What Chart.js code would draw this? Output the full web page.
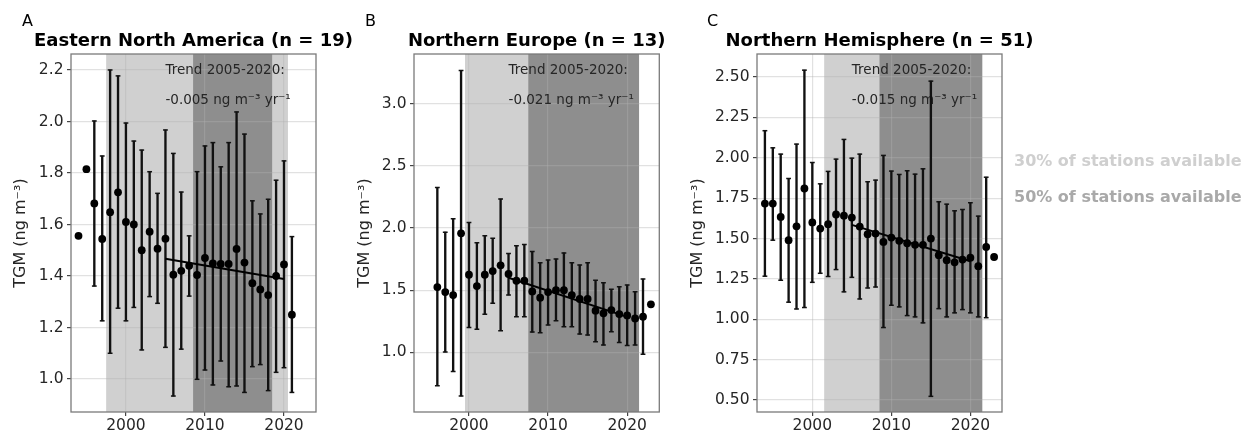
<!DOCTYPE html>
<html><head><meta charset="utf-8">
<script src="https://cdn.jsdelivr.net/npm/chart.js@4.4.0/dist/chart.umd.min.js"></script>
<style>
html,body{margin:0;padding:0;background:#fff;width:1245px;height:433px;overflow:hidden;font-family:"DejaVu Sans",sans-serif;}
canvas{position:absolute;left:0;top:0;}
.lab{position:absolute;font-size:16px;line-height:16px;color:#000;white-space:nowrap;}
.leg{position:absolute;font-size:16px;font-weight:bold;line-height:20px;white-space:nowrap;}
</style></head><body>
<canvas id="cA" width="1245" height="433"></canvas>
<canvas id="cB" width="1245" height="433"></canvas>
<canvas id="cC" width="1245" height="433"></canvas>
<div class="lab" style="left:22px;top:13px">A</div>
<div class="lab" style="left:365px;top:13px">B</div>
<div class="lab" style="left:707px;top:13px">C</div>
<div class="leg" style="left:1014px;top:151px;color:#cfcfcf">30% of stations available</div>
<div class="leg" style="left:1014px;top:187px;color:#a9a9a9">50% of stations available</div>
<script>
// ---------- data ----------
const xTicks = [2000, 2010, 2020];
const trendYears = [2005, 2020];
const yLabel = 'TGM (ng m⁻³)';

// Panel A
const titleA = 'Eastern North America (n = 19)';
const trendTextA = '-0.005 ng m⁻³ yr⁻¹';
const yearsA = [1994,1995,1996,1997,1998,1999,2000,2001,2002,2003,2004,2005,2006,2007,2008,2009,2010,2011,2012,2013,2014,2015,2016,2017,2018,2019,2020,2021];
const meanA = [1.556,1.815,1.682,1.544,1.648,1.725,1.61,1.60,1.50,1.572,1.506,1.545,1.405,1.42,1.44,1.404,1.47,1.449,1.447,1.447,1.505,1.452,1.372,1.348,1.326,1.40,1.445,1.25];
const lowA  = [null,null,1.361,1.226,1.10,1.275,1.226,1.278,1.113,1.32,1.294,1.123,0.934,1.116,1.322,0.999,1.035,0.977,1.07,0.97,0.973,0.948,1.048,1.056,0.955,1.026,1.044,0.948];
const highA = [null,null,2.002,1.866,2.2,2.177,1.994,1.924,1.889,1.805,1.721,1.967,1.876,1.726,1.556,1.805,1.905,1.918,1.824,1.918,2.037,1.951,1.692,1.641,1.698,1.772,1.847,1.553];
const trendA = [1.467, 1.388];
const yTicksA = [1.0,1.2,1.4,1.6,1.8,2.0,2.2];
const shadeLightA = [1997.5, 2020.5];
const shadeDarkA = [2008.5, 2018.5];

// Panel B
const titleB = 'Northern Europe (n = 13)';
const trendTextB = '-0.021 ng m⁻³ yr⁻¹';
const yearsB = [1996,1997,1998,1999,2000,2001,2002,2003,2004,2005,2006,2007,2008,2009,2010,2011,2012,2013,2014,2015,2016,2017,2018,2019,2020,2021,2022,2023];
const meanB = [1.525,1.485,1.461,1.957,1.624,1.533,1.624,1.654,1.70,1.63,1.576,1.576,1.49,1.44,1.485,1.50,1.50,1.461,1.429,1.429,1.335,1.314,1.34,1.308,1.297,1.273,1.287,1.386];
const lowB  = [0.732,1.003,0.845,0.649,1.20,1.185,1.306,1.394,1.174,1.461,1.287,1.287,1.163,1.158,1.22,1.255,1.206,1.206,1.147,1.139,1.086,1.059,1.166,1.08,1.054,1.059,0.984,null];
const highB = [2.327,1.967,2.075,3.268,2.045,1.882,1.938,1.917,2.233,1.796,1.858,1.868,1.812,1.721,1.742,1.75,1.80,1.721,1.702,1.721,1.579,1.56,1.507,1.528,1.541,1.488,1.59,null];
const trendB = [1.60, 1.285];
const yTicksB = [1.0,1.5,2.0,2.5,3.0];
const shadeLightB = [1999.5, 2021.5];
const shadeDarkB = [2007.5, 2021.5];

// Panel C
const titleC = 'Northern Hemisphere (n = 51)';
const trendTextC = '-0.015 ng m⁻³ yr⁻¹';
const yearsC = [1994,1995,1996,1997,1998,1999,2000,2001,2002,2003,2004,2005,2006,2007,2008,2009,2010,2011,2012,2013,2014,2015,2016,2017,2018,2019,2020,2021,2022,2023];
const meanC = [1.717,1.717,1.634,1.49,1.576,1.81,1.60,1.562,1.589,1.649,1.642,1.63,1.574,1.527,1.531,1.479,1.506,1.486,1.471,1.461,1.461,1.50,1.397,1.366,1.353,1.37,1.382,1.329,1.448,1.386];
const lowC  = [1.267,1.49,1.242,1.106,1.064,1.073,1.229,1.285,1.265,1.308,1.17,1.26,1.126,1.194,1.2,0.949,1.087,1.077,1.023,1.015,0.978,0.523,1.066,1.015,1.04,1.06,1.04,1.015,1.01,null];
const highC = [2.168,2.062,2.023,1.872,2.085,2.543,1.971,1.839,1.916,1.992,2.114,1.998,2.023,1.852,1.862,2.015,1.918,1.897,1.92,1.899,1.932,2.475,1.728,1.713,1.672,1.68,1.722,1.639,1.88,null];
const trendC = [1.585, 1.36];
const yTicksC = [0.50,0.75,1.00,1.25,1.50,1.75,2.00,2.25,2.50];
const shadeLightC = [2001.5, 2021.5];
const shadeDarkC = [2008.5, 2021.5];

// ---------- style ----------
const FONT = '"DejaVu Sans", sans-serif';
const TXT = '#262626';
const GRID = 'rgba(176,176,176,0.38)';
const LIGHT = '#d0d0d0';
const DARK = '#8e8e8e';
const INK = '#111';

function makeChart(id, p) {
  const pts = [], bars = [], caps = [];
  p.years.forEach((yr, i) => {
    pts.push({x: yr, y: p.mean[i]});
    if (p.low[i] != null && p.high[i] != null) {
      bars.push({x: yr, y: [p.low[i], p.high[i]]});
      caps.push({x: yr, y: p.low[i]}, {x: yr, y: p.high[i]});
    }
  });
  const trend = trendYears.map((yr, i) => ({x: yr, y: p.trend[i]}));

  const deco = {
    id: 'deco',
    afterLayout(chart) {
      const t = chart.titleBlock;
      if (t) { t.left -= 150; t.right += 150; t.width = t.right - t.left; }
    },
    beforeDraw(chart) {
      const {ctx, chartArea: a, scales: {x}} = chart;
      ctx.save();
      ctx.beginPath(); ctx.rect(a.left, a.top, a.right - a.left, a.bottom - a.top); ctx.clip();
      const l1 = x.getPixelForValue(p.light[0]), l2 = x.getPixelForValue(p.light[1]);
      ctx.fillStyle = LIGHT; ctx.fillRect(l1, a.top, l2 - l1, a.bottom - a.top);
      const d1 = x.getPixelForValue(p.dark[0]), d2 = x.getPixelForValue(p.dark[1]);
      ctx.fillStyle = DARK; ctx.fillRect(d1, a.top, d2 - d1, a.bottom - a.top);
      ctx.restore();
    },
    beforeDatasetsDraw(chart) {
      const {ctx, chartArea: a, scales: {x}} = chart;
      ctx.save();
      ctx.font = '13.5px ' + FONT;
      ctx.fillStyle = TXT; ctx.textAlign = 'left'; ctx.textBaseline = 'middle';
      const tx = x.getPixelForValue(trendYears[0]);
      ctx.fillText('Trend 2005-2020:', tx, a.top + 16.7);
      ctx.fillText(p.trendText, tx, a.top + 46);
      ctx.restore();
    },
    afterDraw(chart) {
      const {ctx, chartArea: a} = chart;
      ctx.save();
      ctx.strokeStyle = '#7a7a7a'; ctx.lineWidth = 1.3;
      ctx.strokeRect(a.left, a.top, a.right - a.left, a.bottom - a.top);
      ctx.restore();
    }
  };

  return new Chart(document.getElementById(id), {
    type: 'scatter',
    data: {
      datasets: [
        {type: 'scatter', data: pts, pointRadius: 3.9, pointHoverRadius: 3.9, backgroundColor: '#000', borderWidth: 0, order: 0},
        {type: 'line', data: trend, showLine: true, borderColor: '#000', borderWidth: 2, pointRadius: 0, fill: false, order: 1},
        {type: 'scatter', data: caps, pointStyle: 'line', pointRadius: 2.4, pointHoverRadius: 2.4, borderColor: INK, borderWidth: 1.5, order: 2},
        {type: 'bar', data: bars, barThickness: 1.7, grouped: false, backgroundColor: INK, borderWidth: 0, order: 3}
      ]
    },
    options: {
      responsive: false, animation: false,
      events: [],
      layout: {padding: {left: p.padL, right: p.padR, top: 31, bottom: 0}},
      plugins: {
        legend: {display: false}, tooltip: {enabled: false},
        title: {display: true, text: p.title, fullSize: false, color: '#000',
                font: {family: FONT, size: 18, weight: 'bold'}, padding: {top: 0, bottom: 1.4}}
      },
      scales: {
        x: {
          type: 'linear', min: p.xmin, max: p.xmax, offset: false,
          afterFit(s) { s.height = 21; },
          afterBuildTicks(s) { s.ticks = xTicks.map(v => ({value: v})); },
          grid: {offset: false, color: GRID, lineWidth: 1.2, drawTicks: true, tickLength: 4, tickColor: '#444', tickWidth: 1.2},
          border: {display: false},
          ticks: {color: TXT, font: {family: FONT, size: 15.5}, padding: 1, maxRotation: 0, autoSkip: false, callback: v => String(v)}
        },
        y: {
          type: 'linear', min: p.ymin, max: p.ymax,
          afterFit(s) { s.width = p.yW; },
          afterBuildTicks(s) { s.ticks = p.yTicks.map(v => ({value: v})); },
          grid: {color: GRID, lineWidth: 1.2, drawTicks: true, tickLength: 4, tickColor: '#444', tickWidth: 1.2},
          border: {display: false},
          ticks: {color: TXT, font: {family: FONT, size: 15.5}, padding: 3.5, callback: v => Number(v).toFixed(p.dec)},
          title: {display: true, text: yLabel, color: TXT, font: {family: FONT, size: 16}, padding: {top: p.ytPad, bottom: 0}}
        }
      }
    },
    plugins: [deco]
  });
}

makeChart('cA', {years: yearsA, mean: meanA, low: lowA, high: highA, trend: trendA, title: titleA, trendText: trendTextA,
  yTicks: yTicksA, dec: 1, light: shadeLightA, dark: shadeDarkA,
  xmin: 1993.05, xmax: 2024.05, ymin: 0.872, ymax: 2.262, padL: 0, padR: 929, yW: 71, ytPad: 11.4});
makeChart('cB', {years: yearsB, mean: meanB, low: lowB, high: highB, trend: trendB, title: titleB, trendText: trendTextB,
  yTicks: yTicksB, dec: 1, light: shadeLightB, dark: shadeDarkB,
  xmin: 1993.05, xmax: 2024.06, ymin: 0.52, ymax: 3.40, padL: 340, padR: 585.7, yW: 74, ytPad: 15.4});
makeChart('cC', {years: yearsC, mean: meanC, low: lowC, high: highC, trend: trendC, title: titleC, trendText: trendTextC,
  yTicks: yTicksC, dec: 2, light: shadeLightC, dark: shadeDarkC,
  xmin: 1993.0, xmax: 2024.0, ymin: 0.426, ymax: 2.643, padL: 680, padR: 243, yW: 77, ytPad: 7.9});
</script>
</body></html>
